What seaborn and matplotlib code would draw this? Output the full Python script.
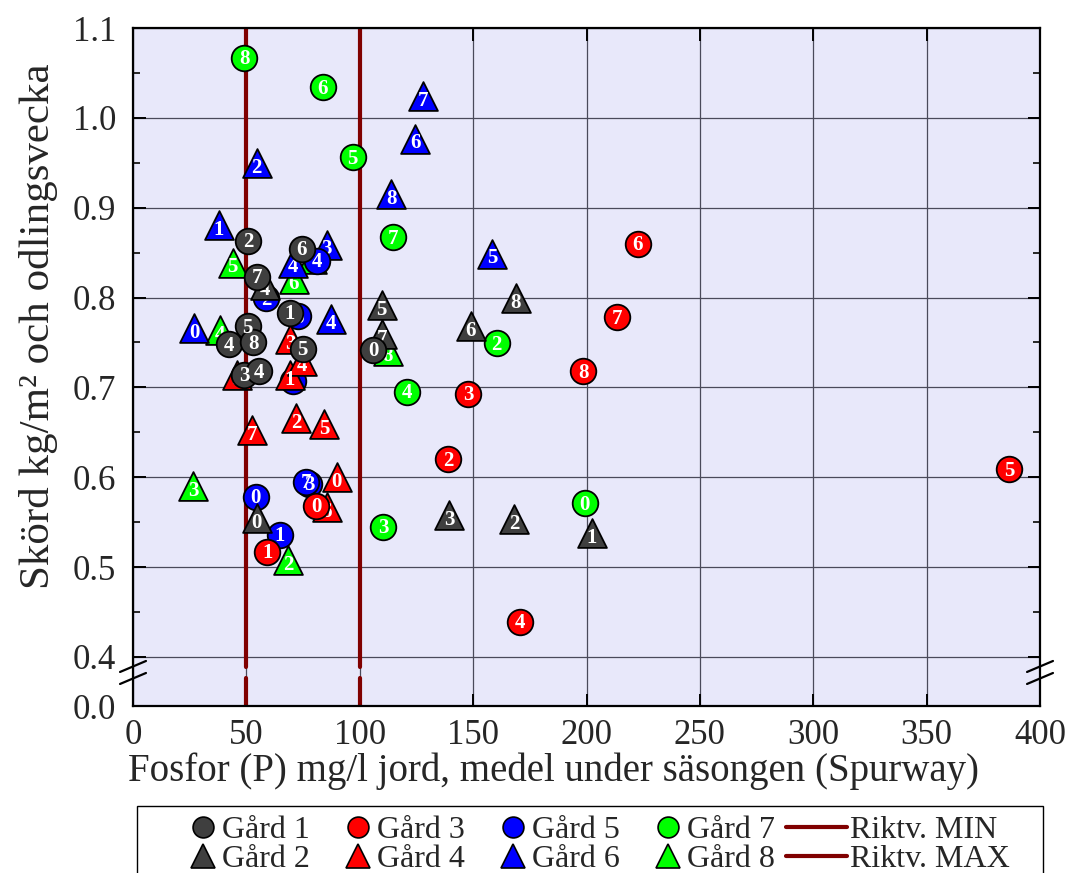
import numpy as np
import pandas as pd
import matplotlib
matplotlib.use("Agg")
import matplotlib.pyplot as plt
import seaborn as sns
from matplotlib.lines import Line2D
from matplotlib.patches import Rectangle
from matplotlib.legend_handler import HandlerLine2D

# ---------------- data (week number, P mg/l, yield kg/m2) ----------------
gard1_vecka = [2, 7, 6, 1, 5, 4, 8, 5, 0, 3, 4]
gard1_fosfor = [50.9, 54.5, 74.4, 69.2, 50.6, 42.5, 53.1, 74.8, 106.0, 49.0, 55.7]
gard1_skord = [0.863, 0.823, 0.854, 0.783, 0.768, 0.748, 0.750, 0.743, 0.742, 0.714, 0.718]

gard2_vecka = [0, 1, 2, 3, 4, 5, 6, 7, 8]
gard2_fosfor = [54.5, 202.3, 168.0, 139.4, 58.2, 109.7, 148.9, 109.7, 168.9]
gard2_skord = [0.555, 0.538, 0.553, 0.558, 0.814, 0.792, 0.768, 0.759, 0.799]

gard3_vecka = [0, 1, 2, 3, 4, 5, 6, 7, 8]
gard3_fosfor = [80.7, 59.2, 138.9, 147.9, 170.7, 386.3, 222.6, 213.3, 198.6]
gard3_skord = [0.568, 0.517, 0.620, 0.693, 0.439, 0.609, 0.860, 0.778, 0.718]

gard4_vecka = [0, 1, 2, 3, 4, 5, 6, 7, 8]
gard4_fosfor = [89.8, 69.2, 71.9, 69.2, 74.4, 84.2, 85.4, 52.3, 45.7]
gard4_skord = [0.600, 0.714, 0.666, 0.754, 0.729, 0.659, 0.567, 0.653, 0.714]

gard5_vecka = [0, 1, 2, 3, 4, 6, 7, 8]
gard5_fosfor = [54.2, 64.8, 58.7, 77.6, 81.0, 72.9, 76.3, 70.7]
gard5_skord = [0.578, 0.536, 0.799, 0.593, 0.841, 0.779, 0.595, 0.707]

gard6_vecka = [0, 1, 2, 3, 4, 4, 5, 6, 7, 8]
gard6_fosfor = [26.9, 37.9, 54.5, 85.4, 70.7, 87.3, 158.5, 124.4, 128.0, 113.8]
gard6_skord = [0.766, 0.881, 0.950, 0.859, 0.839, 0.776, 0.849, 0.977, 1.024, 0.915]

gard7_vecka = [0, 2, 3, 4, 5, 6, 7, 8]
gard7_fosfor = [199.3, 160.4, 110.4, 120.7, 96.9, 83.7, 114.8, 49.1]
gard7_skord = [0.571, 0.749, 0.545, 0.695, 0.956, 1.034, 0.867, 1.067]

gard8_vecka = [2, 3, 4, 5, 6, 7, 8]
gard8_fosfor = [68.5, 26.6, 38.4, 44.0, 71.0, 78.8, 112.3]
gard8_skord = [0.508, 0.590, 0.764, 0.839, 0.821, 0.843, 0.740]

riktv_min = 50
riktv_max = 100

gard_namn = ["Gård 1", "Gård 2", "Gård 3", "Gård 4", "Gård 5", "Gård 6", "Gård 7", "Gård 8"]
x_ticks = [0, 50, 100, 150, 200, 250, 300, 350, 400]
y_ticks = [0.0, 0.4, 0.5, 0.6, 0.7, 0.8, 0.9, 1.0, 1.1]
y_minor = [0.45, 0.55, 0.65, 0.75, 0.85, 0.95, 1.05]

# ---------------- style ----------------
sns.set_style("ticks")
plt.rcParams["font.family"] = ["Liberation Serif", "DejaVu Serif"]

colors = ["#3f3f3f", "#3f3f3f", "#ff0000", "#ff0000", "#0000ff", "#0000ff", "#00ff00", "#00ff00"]
markers = ["o", "^", "o", "^", "o", "^", "o", "^"]
line_col = "#800000"

frames = []
for i, (v, p, s) in enumerate([
    (gard1_vecka, gard1_fosfor, gard1_skord), (gard2_vecka, gard2_fosfor, gard2_skord),
    (gard3_vecka, gard3_fosfor, gard3_skord), (gard4_vecka, gard4_fosfor, gard4_skord),
    (gard5_vecka, gard5_fosfor, gard5_skord), (gard6_vecka, gard6_fosfor, gard6_skord),
    (gard7_vecka, gard7_fosfor, gard7_skord), (gard8_vecka, gard8_fosfor, gard8_skord)]):
    frames.append(pd.DataFrame({"gard": gard_namn[i], "vecka": v, "P": p, "skord": s}))
df = pd.concat(frames, ignore_index=True)

fig = plt.figure(figsize=(10.69, 8.73), dpi=100)
ax = fig.add_axes([0.12442, 0.19129, 0.84846, 0.77663])
ax.set_facecolor("#E8E8FA")

# broken y-axis: 0..0.4 compressed
BRK = 0.4
K = 0.05457 / 0.4
def fwd(y):
    y = np.asarray(y, dtype=float)
    return np.where(y >= BRK, y, BRK - (BRK - y) * K)
def inv(t):
    t = np.asarray(t, dtype=float)
    return np.where(t >= BRK, t, BRK - (BRK - t) / K)
ax.set_yscale("function", functions=(fwd, inv))
ax.set_ylim(0, 1.1)
ax.set_xlim(0, 400)

ax.grid(True, color="#4a4a5a", linewidth=0.9, zorder=1)
ax.set_axisbelow(True)

# guideline lines (broken at the axis break)
lo_top, hi_bot = 0.0413, 0.0575
for val in (riktv_min, riktv_max):
    ax.axvline(val, ymin=0, ymax=lo_top, color=line_col, lw=3, zorder=2)
    ax.axvline(val, ymin=hi_bot, ymax=1, color=line_col, lw=3, zorder=2)

# points: draw Gård 8 first, Gård 1 last (on top)
for k, gi in enumerate(range(7, -1, -1)):
    sub = df[df["gard"] == gard_namn[gi]]
    mk = markers[gi]
    size = 340 if mk == "o" else 430
    sns.scatterplot(data=sub, x="P", y="skord", marker=mk, s=size, color=colors[gi],
                    edgecolor="black", linewidth=1.3, ax=ax, zorder=3 + 2 * k, legend=False)
    dy = -1.0 if mk == "o" else -3.5
    for _, r in sub.iterrows():
        ax.annotate(str(int(r["vecka"])), (r["P"], r["skord"]), xytext=(0, dy),
                    textcoords="offset points", ha="center", va="center",
                    color="white", fontweight="bold", fontsize=15, zorder=4 + 2 * k)

ax.set_xticks(x_ticks)
ax.set_yticks(y_ticks)
ax.set_yticks(y_minor, minor=True)
ax.set_yticklabels([f"{t:.1f}" for t in y_ticks])
ax.tick_params(axis="both", which="major", direction="in", length=9, width=1.4,
               labelsize=25, top=True, right=True, color="black")
ax.tick_params(axis="y", which="minor", direction="in", length=5, width=1.4, right=True)
ax.tick_params(axis="x", which="major", pad=9)
ax.tick_params(axis="y", which="major", pad=12)
for sp in ax.spines.values():
    sp.set_linewidth(1.6)
    sp.set_color("black")
    sp.set_zorder(30)

ax.set_xlabel("Fosfor (P) mg/l jord, medel under säsongen (Spurway)", fontsize=28)
ax.set_ylabel("Skörd kg/m² och odlingsvecka", fontsize=31)
ax.xaxis.set_label_coords(0.464, -0.068)
ax.yaxis.set_label_coords(-0.083, 0.56)

# break marks on both spines
for xs in (0.0, 1.0):
    for yc in (0.0583, 0.0406):
        ax.plot([xs - 0.0143, xs + 0.0143], [yc - 0.0081, yc + 0.0081], transform=ax.transAxes,
                color="black", lw=1.6, clip_on=False, zorder=31)

# legend
class LongLine(HandlerLine2D):
    def get_xdata(self, legend, xdescent, ydescent, width, height, fontsize):
        xd = np.array([-xdescent - 0.82 * fontsize, -xdescent + width + 0.4 * fontsize])
        return xd, xd

handles = []
labels = []
for gi in range(8):
    handles.append(Line2D([], [], linestyle="none", marker=markers[gi],
                          markersize=15 if markers[gi] == "o" else 17,
                          markerfacecolor=colors[gi], markeredgecolor="black", markeredgewidth=1.2))
    labels.append(gard_namn[gi])
lmin = Line2D([], [], color=line_col, lw=3)
lmax = Line2D([], [], color=line_col, lw=3)
handles += [lmin, lmax]
labels += [" Riktv. MIN", " Riktv. MAX"]

frame = Rectangle((137 / 1069, -0.02), (1043 - 137) / 1069, (873 - 806) / 873 + 0.02,
                  transform=fig.transFigure, facecolor="white", edgecolor="black", lw=1.0)
fig.add_artist(frame)

leg = fig.legend(handles, labels, ncol=5, loc="upper left",
                 bbox_to_anchor=(192 / 1069, 1 - 816 / 873), fontsize=23,
                 frameon=False, handlelength=0.7, handletextpad=0.25, columnspacing=1.15,
                 borderpad=0, labelspacing=-0.02, borderaxespad=0,
                 handler_map={lmin: LongLine(), lmax: LongLine()})

fig.savefig("out.png", dpi=100)
